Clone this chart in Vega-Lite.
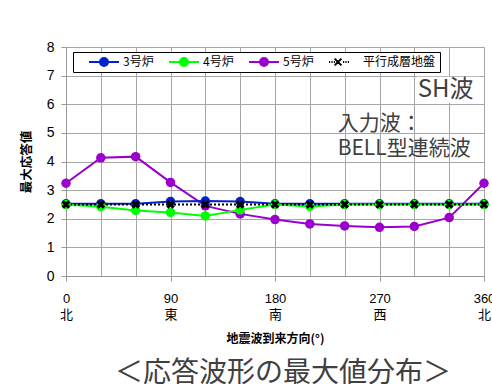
{
  "$schema": "https://vega.github.io/schema/vega-lite/v6.json",
  "width": 418,
  "height": 229,
  "autosize": {"type": "none"},
  "padding": {"left": 66, "top": 47, "right": 8, "bottom": 108},
  "background": "white",
  "config": {"view": {"stroke": null}, "font": "Noto Sans CJK JP"},
  "title": {"text": "＜応答波形の最大値分布＞", "orient": "bottom", "anchor": "middle", "dx": 8, "offset": 16, "font": "Noto Sans CJK JP", "fontSize": 28, "fontWeight": "normal", "color": "#404040"},
  "datasets": {
    "series": [
      {"series": "5号炉", "angle": 0, "value": 3.24},
      {"series": "5号炉", "angle": 30, "value": 4.13},
      {"series": "5号炉", "angle": 60, "value": 4.17},
      {"series": "5号炉", "angle": 90, "value": 3.27},
      {"series": "5号炉", "angle": 120, "value": 2.45},
      {"series": "5号炉", "angle": 150, "value": 2.17},
      {"series": "5号炉", "angle": 180, "value": 1.97},
      {"series": "5号炉", "angle": 210, "value": 1.82},
      {"series": "5号炉", "angle": 240, "value": 1.75},
      {"series": "5号炉", "angle": 270, "value": 1.7},
      {"series": "5号炉", "angle": 300, "value": 1.73},
      {"series": "5号炉", "angle": 330, "value": 2.04},
      {"series": "5号炉", "angle": 360, "value": 3.24},
      {"series": "3号炉", "angle": 0, "value": 2.52},
      {"series": "3号炉", "angle": 30, "value": 2.52},
      {"series": "3号炉", "angle": 60, "value": 2.52},
      {"series": "3号炉", "angle": 90, "value": 2.6},
      {"series": "3号炉", "angle": 120, "value": 2.62},
      {"series": "3号炉", "angle": 150, "value": 2.6},
      {"series": "3号炉", "angle": 180, "value": 2.52},
      {"series": "3号炉", "angle": 210, "value": 2.52},
      {"series": "3号炉", "angle": 240, "value": 2.52},
      {"series": "3号炉", "angle": 270, "value": 2.52},
      {"series": "3号炉", "angle": 300, "value": 2.52},
      {"series": "3号炉", "angle": 330, "value": 2.52},
      {"series": "3号炉", "angle": 360, "value": 2.52},
      {"series": "4号炉", "angle": 0, "value": 2.5},
      {"series": "4号炉", "angle": 30, "value": 2.42},
      {"series": "4号炉", "angle": 60, "value": 2.29},
      {"series": "4号炉", "angle": 90, "value": 2.22},
      {"series": "4号炉", "angle": 120, "value": 2.1},
      {"series": "4号炉", "angle": 150, "value": 2.31},
      {"series": "4号炉", "angle": 180, "value": 2.5},
      {"series": "4号炉", "angle": 210, "value": 2.43},
      {"series": "4号炉", "angle": 240, "value": 2.5},
      {"series": "4号炉", "angle": 270, "value": 2.5},
      {"series": "4号炉", "angle": 300, "value": 2.5},
      {"series": "4号炉", "angle": 330, "value": 2.5},
      {"series": "4号炉", "angle": 360, "value": 2.5},
      {"series": "平行成層地盤", "angle": 0, "value": 2.5},
      {"series": "平行成層地盤", "angle": 30, "value": 2.5},
      {"series": "平行成層地盤", "angle": 60, "value": 2.5},
      {"series": "平行成層地盤", "angle": 90, "value": 2.5},
      {"series": "平行成層地盤", "angle": 120, "value": 2.5},
      {"series": "平行成層地盤", "angle": 150, "value": 2.5},
      {"series": "平行成層地盤", "angle": 180, "value": 2.5},
      {"series": "平行成層地盤", "angle": 210, "value": 2.5},
      {"series": "平行成層地盤", "angle": 240, "value": 2.5},
      {"series": "平行成層地盤", "angle": 270, "value": 2.5},
      {"series": "平行成層地盤", "angle": 300, "value": 2.5},
      {"series": "平行成層地盤", "angle": 330, "value": 2.5},
      {"series": "平行成層地盤", "angle": 360, "value": 2.5}
    ],
    "notes": [
      {"angle": 234, "value": 5.31, "label": "入力波："},
      {"angle": 234, "value": 4.44, "label": "BELL型連続波"}
    ],
    "title2": [
      {"angle": 303, "value": 6.5, "label": "SH波"}
    ],
    "box": [
      {"angle": 302, "angle2": 357, "value": 6.05, "value2": 6.96}
    ]
  },
  "encoding": {
    "x": {
      "field": "angle", "type": "quantitative",
      "scale": {"domain": [0, 360], "nice": false, "zero": false},
      "axis": {
        "title": "地震波到来方向(°)",
        "values": [0, 30, 60, 90, 120, 150, 180, 210, 240, 270, 300, 330, 360],
        "labelExpr": "datum.value == 0 ? ['0','北'] : datum.value == 90 ? ['90','東'] : datum.value == 180 ? ['180','南'] : datum.value == 270 ? ['270','西'] : datum.value == 360 ? ['360','北'] : ''",
        "labelFlush": false,
        "labelOverlap": false,
        "labelFontSize": 13,
        "labelLineHeight": 16,
        "labelPadding": 11,
        "labelColor": "#000",
        "labelFont": "Liberation Sans, Noto Sans CJK JP",
        "grid": true,
        "gridColor": "#a6a6a6",
        "gridWidth": 1,
        "domainColor": "#999",
        "tickSize": 5,
        "tickColor": {"condition": {"test": "datum.value % 90 == 0", "value": "#999"}, "value": "transparent"},
        "titleFontSize": 12,
        "titleFontWeight": "bold",
        "titleColor": "#000",
        "titlePadding": 12,
        "titleFont": "Noto Sans CJK JP"
      }
    },
    "y": {
      "field": "value", "type": "quantitative",
      "scale": {"domain": [0, 8], "nice": false},
      "axis": {
        "title": "最大応答値",
        "values": [0, 1, 2, 3, 4, 5, 6, 7, 8],
        "labelFontSize": 14,
        "labelColor": "#000",
        "labelPadding": 7,
        "labelFont": "Liberation Sans",
        "grid": true,
        "gridColor": "#a6a6a6",
        "domainColor": "#999",
        "tickColor": "#999",
        "tickSize": 5,
        "titleFontSize": 12.5,
        "titleFontWeight": "bold",
        "titleColor": "#000",
        "titlePadding": 13,
        "titleFont": "Noto Sans CJK JP"
      }
    }
  },
  "layer": [
    {
      "data": {"name": "box"},
      "mark": {"type": "rect", "fill": "white", "stroke": null},
      "encoding": {"x2": {"field": "angle2"}, "y2": {"field": "value2"}}
    },
    {
      "data": {"name": "series"},
      "transform": [{"filter": "datum.series == '5号炉'"}],
      "mark": {"type": "line", "strokeWidth": 2, "color": "#9900cc"},
      "encoding": {}
    },
    {
      "data": {"name": "series"},
      "transform": [{"filter": "datum.series == '3号炉'"}],
      "mark": {"type": "line", "strokeWidth": 2, "color": "#0022cc"},
      "encoding": {}
    },
    {
      "data": {"name": "series"},
      "transform": [{"filter": "datum.series == '4号炉'"}],
      "mark": {"type": "line", "strokeWidth": 2, "color": "#00ff00"},
      "encoding": {}
    },
    {
      "data": {"name": "series"},
      "transform": [{"filter": "datum.series == '平行成層地盤'"}],
      "mark": {"type": "line", "strokeWidth": 2, "color": "#000", "strokeDash": [2, 2]},
      "encoding": {}
    },
    {
      "data": {"name": "series"},
      "transform": [{"filter": "datum.series != '平行成層地盤'"}],
      "mark": {"type": "point", "shape": "circle", "filled": true, "size": 90, "opacity": 1},
      "encoding": {
        "color": {"field": "series", "type": "nominal", "scale": {"domain": ["5号炉", "3号炉", "4号炉"], "range": ["#9900cc", "#0022cc", "#00ff00"]}, "legend": null}
      }
    },
    {
      "data": {"name": "series"},
      "transform": [{"filter": "datum.series == '平行成層地盤'"}],
      "mark": {"type": "point", "shape": "M-1,-1L1,1M-1,1L1,-1", "filled": false, "size": 40, "strokeWidth": 3.2, "opacity": 1, "color": "#000"},
      "encoding": {}
    },
    {
      "data": {"name": "series"},
      "transform": [{"filter": "datum.angle > 1000"}],
      "mark": {"type": "point", "filled": true, "opacity": 1, "size": 1600},
      "encoding": {
        "fill": {"field": "series", "type": "nominal", "scale": {"domain": ["3号炉", "4号炉", "5号炉", "平行成層地盤"], "range": ["#0022cc", "#00ff00", "#9900cc", "#000000"]},
          "legend": {
            "title": null, "orient": "none", "legendX": 7, "legendY": 5,
            "direction": "horizontal", "columns": 4, "clipHeight": 12,
            "padding": 4, "columnPadding": 3, "labelOffset": 4,
            "labelFontSize": 12, "labelFont": "Noto Sans CJK JP", "labelColor": "#000", "labelLimit": 200,
            "symbolSize": 1600, "symbolStrokeWidth": 2, "symbolOpacity": 1,
            "strokeColor": "#000", "fillColor": "#fff"
          }},
        "stroke": {"field": "series", "type": "nominal", "scale": {"domain": ["3号炉", "4号炉", "5号炉", "平行成層地盤"], "range": ["#0022cc", "#00ff00", "#9900cc", "#000000"]},
          "legend": {
            "title": null, "orient": "none", "legendX": 7, "legendY": 5,
            "direction": "horizontal", "columns": 4, "clipHeight": 12,
            "padding": 4, "columnPadding": 3, "labelOffset": 4,
            "labelFontSize": 12, "labelFont": "Noto Sans CJK JP", "labelColor": "#000", "labelLimit": 200,
            "symbolSize": 1600, "symbolStrokeWidth": 2, "symbolOpacity": 1,
            "strokeColor": "#000", "fillColor": "#fff"
          }},
        "shape": {
          "field": "series", "type": "nominal",
          "scale": {"domain": ["3号炉", "4号炉", "5号炉", "平行成層地盤"], "range": [
            "M-0.45,0H1.05M0.5,0A0.2,0.2 0 1 1 0.1,0A0.2,0.2 0 1 1 0.5,0Z",
            "M-0.45,0H1.05M0.5,0A0.2,0.2 0 1 1 0.1,0A0.2,0.2 0 1 1 0.5,0Z",
            "M-0.45,0H1.05M0.5,0A0.2,0.2 0 1 1 0.1,0A0.2,0.2 0 1 1 0.5,0Z",
            "M-0.45,0h0.06M-0.33,0h0.06M-0.21,0h0.06M-0.17,-0.17L0.17,0.17M-0.17,0.17L0.17,-0.17M0.25,0h0.06M0.37,0h0.06M0.49,0h0.06"
          ]},
          "legend": {
            "title": null, "orient": "none", "legendX": 7, "legendY": 5,
            "direction": "horizontal", "columns": 4, "clipHeight": 12,
            "padding": 4, "columnPadding": 3, "labelOffset": 4,
            "labelFontSize": 12, "labelFont": "Noto Sans CJK JP", "labelColor": "#000", "labelLimit": 200,
            "symbolSize": 1600, "symbolStrokeWidth": 2, "symbolOpacity": 1,
            "strokeColor": "#000", "fillColor": "#fff"
          }
        }
      }
    },
    {
      "data": {"name": "title2"},
      "mark": {"type": "text", "align": "left", "baseline": "middle", "fontSize": 24, "color": "#404040", "font": "Noto Sans CJK JP"},
      "encoding": {"text": {"field": "label"}}
    },
    {
      "data": {"name": "notes"},
      "mark": {"type": "text", "align": "left", "baseline": "middle", "fontSize": 21, "color": "#404040", "font": "Noto Sans CJK JP"},
      "encoding": {"text": {"field": "label"}}
    }
  ]
}
